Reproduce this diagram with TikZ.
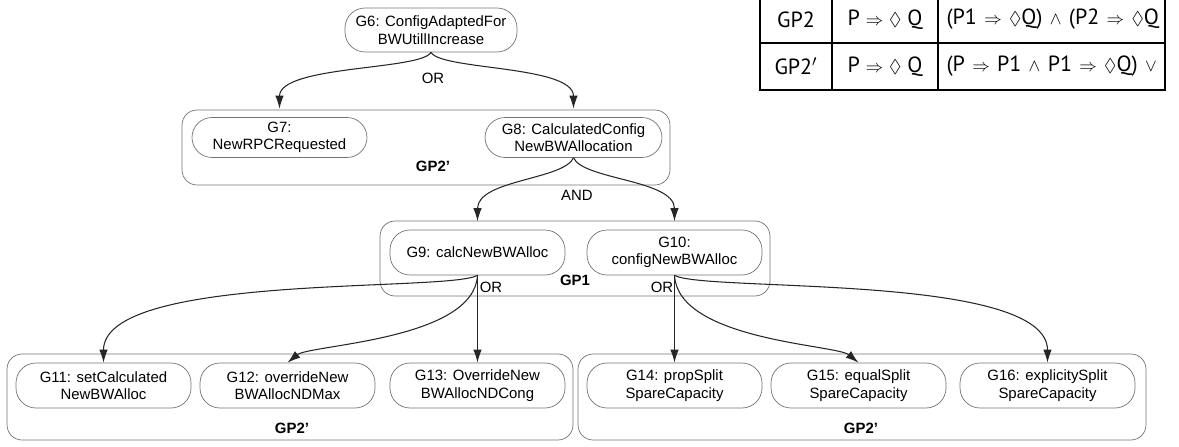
\documentclass[tikz,border=0pt]{standalone}
\usepackage{amssymb}
\usepackage{fontspec}
\setsansfont{Liberation Sans}
\newfontfamily\tabfont{PT Sans}
\usetikzlibrary{arrows.meta}
\newcommand\timp{{\fontsize{10}{12}\selectfont$\Rightarrow$}}
\newcommand\tev{{\fontsize{10.5}{12}\selectfont$\lozenge$}}
\newcommand\tand{{\fontsize{10}{12}\selectfont$\wedge$}}
\newcommand\tor{{\fontsize{10}{12}\selectfont$\vee$}}
\tikzset{g/.style={rectangle,draw=black!55,rounded corners=4mm,minimum width=3.5cm,minimum height=9mm,align=center,inner sep=1pt,font=\sffamily\fontsize{8.5}{10}\selectfont}}
\tikzset{gp/.style={rectangle,draw=black!55,rounded corners=3mm}}
\tikzset{t/.style={inner sep=1pt,font=\sffamily\fontsize{8.5}{10}\selectfont}}
\tikzset{gpl/.style={inner sep=1pt,font=\sffamily\bfseries\fontsize{8.5}{10}\selectfont}}
\tikzset{arr/.style={draw=black!85,line width=0.6pt,-{Latex[length=2.6mm,width=1.7mm]}}}
\tikzset{cell/.style={rectangle,draw,line width=0.8pt,minimum height=9.4mm,inner sep=0pt,font=\tabfont\fontsize{12.5}{15}\selectfont}}

\begin{document}
\begin{tikzpicture}[x=0.02cm,y=-0.02cm]
  \useasboundingbox (0,0) rectangle (1179,446);
  % groups
  \node[gp,minimum width=9.76cm,minimum height=1.5cm] (GPa) at (426,147.5) {};
  \node[gp,minimum width=7.8cm,minimum height=1.5cm] (GPb) at (575,258.5) {};
  \node[gp,minimum width=11.32cm,minimum height=1.72cm] (GPc) at (290,397) {};
  \node[gp,minimum width=11.36cm,minimum height=1.72cm] (GPd) at (862,397) {};
  \node[gpl] (La) at (433,166) {GP2'};
  \node[gpl] (Lb) at (575,280) {GP1};
  \node[gpl] (Lc) at (292,428) {GP2'};
  \node[gpl] (Ld) at (861,428) {GP2'};
  % goals
  \node[g,minimum width=3.44cm,minimum height=8.8mm] (G6) at (431,30) {G6: ConfigAdaptedFor\\BWUtillIncrease};
  \node[g,minimum height=8mm] (G7) at (279.5,137.5) {G7:\\NewRPCRequested};
  \node[g,minimum width=3.54cm,minimum height=8mm] (G8) at (573.5,137.5) {G8: CalculatedConfig\\NewBWAllocation};
  \node[g] (G9) at (477.5,252.5) {G9: calcNewBWAlloc};
  \node[g] (G10) at (674.5,252.5) {G10:\\configNewBWAlloc};
  \node[g] (G11) at (103.5,385.5) {G11: setCalculated\\NewBWAlloc};
  \node[g] (G12) at (287.5,385.5) {G12: overrideNew\\BWAllocNDMax};
  \node[g] (G13) at (477.5,385.5) {G13: OverrideNew\\BWAllocNDCong};
  \node[g] (G14) at (674.5,385.5) {G14: propSplit\\SpareCapacity};
  \node[g] (G15) at (858.5,385.5) {G15: equalSplit\\SpareCapacity};
  \node[g] (G16) at (1047.5,385.5) {G16: explicitySplit\\SpareCapacity};
  \node[t] (OR1) at (433,78) {OR};
  \node[t] (AND1) at (577,195) {AND};
  \node[t] (OR2) at (491,287) {OR};
  \node[t] (OR3) at (662,287) {OR};
  % refinements
  \foreach \a/\b/\cx/\cy/\dx/\dy in {G6/G7/-10/18/0/-52,G6/G8/10/18/0/-52,G8/G9/-10/22/0/-50,G8/G10/10/22/0/-50}
    \draw[arr,shorten >=0.17cm] (\a.south) .. controls +(\cx,\cy) and +(\dx,\dy) .. (\b.north);
  \foreach \a/\b in {G9/G13,G10/G14}
    \draw[arr] (\a) -- (\b);
  \foreach \a/\b/\cx/\cy/\dx/\dy in {G9/G11/-30/17/0/-90,G9/G12/-3.5/65/22/-18,G10/G15/3.5/65/-22/-18,G10/G16/30/17/0/-90}
    \draw[arr] (\a.south) .. controls +(\cx,\cy) and +(\dx,\dy) .. (\b.north);
  % table
  \node[cell,minimum width=1.44cm] (T11) at (796,19.5) {GP2};
  \node[cell,minimum width=2.12cm] (T12) at (885,19.5) {P \timp{} \tev{} Q};
  \node[cell,minimum width=4.54cm,text width=4.2cm,align=left] (T13) at (1051.5,19.5) {\mbox{(P1 \timp{} \tev{}Q) \tand{} (P2 \timp{} \tev{}Q}};
  \node[cell,minimum width=1.44cm] (T21) at (796,66.5) {GP2$'$};
  \node[cell,minimum width=2.12cm] (T22) at (885,66.5) {P \timp{} \tev{} Q};
  \node[cell,minimum width=4.54cm,text width=4.2cm,align=left] (T23) at (1051.5,66.5) {\mbox{(P \timp{} P1 \tand{} P1 \timp{} \tev{}Q) \tor{}}};
\end{tikzpicture}
\end{document}
